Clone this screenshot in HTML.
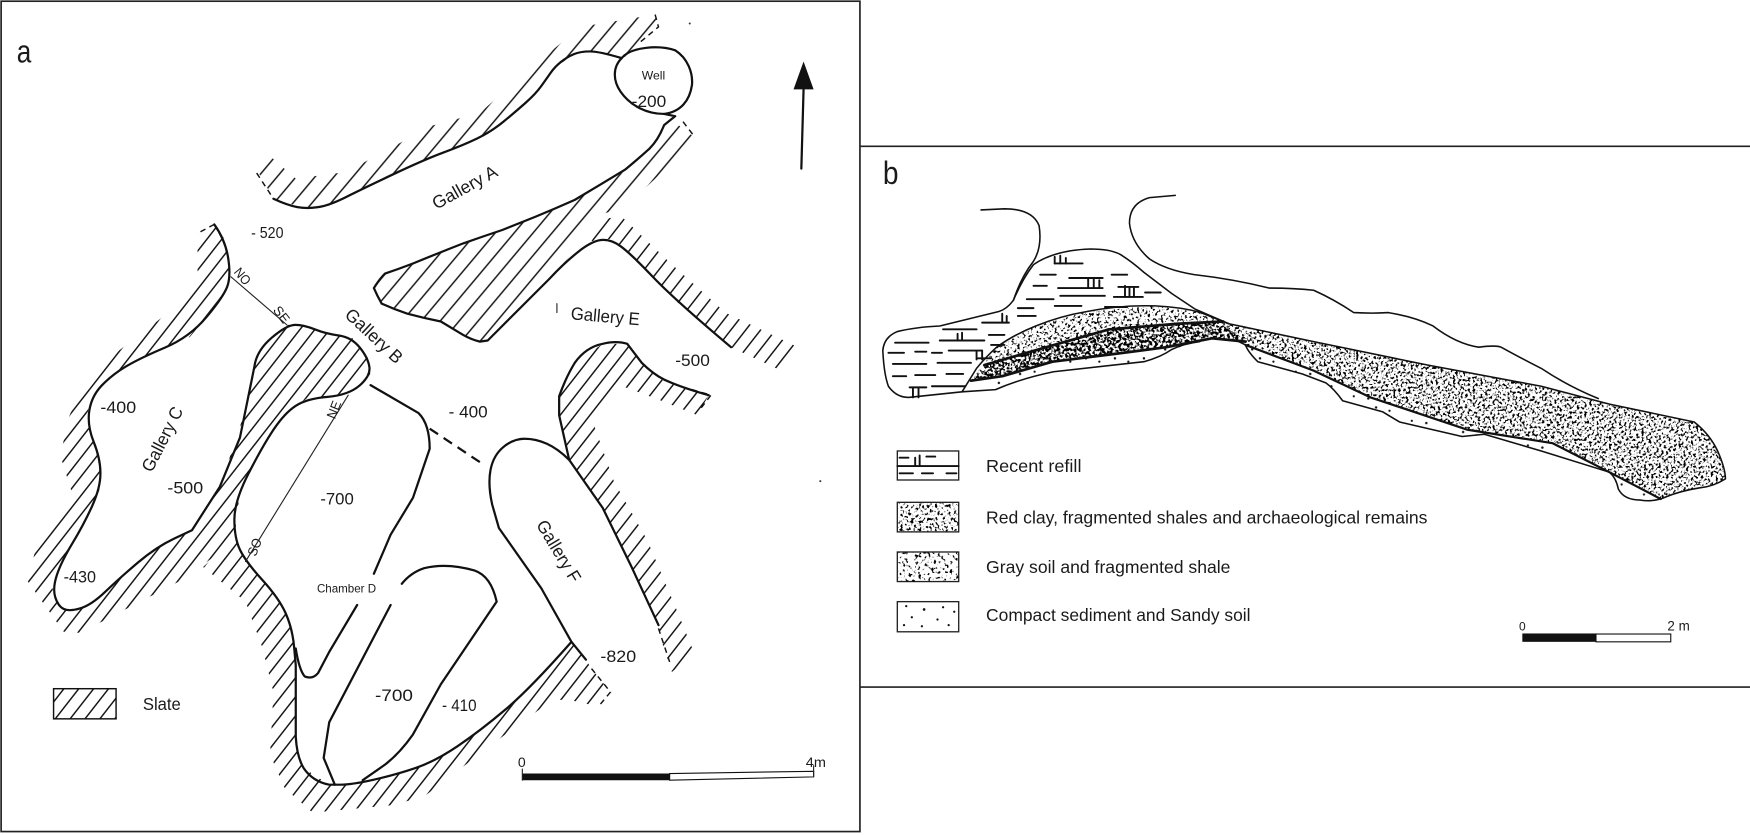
<!DOCTYPE html>
<html><head><meta charset="utf-8"><style>
html,body{margin:0;padding:0;background:#fff}
svg{display:block}
text{font-family:"Liberation Sans",sans-serif;fill:#1a1a1a}
.w{fill:none;stroke:#111;stroke-width:2;stroke-linejoin:round;stroke-linecap:round}
.t{fill:none;stroke:#222;stroke-width:1;stroke-linecap:round}
.th{fill:none;stroke:#111;stroke-width:1.7;stroke-linejoin:round;stroke-linecap:round}
.d{fill:none;stroke:#111;stroke-width:1.3;stroke-dasharray:5 4}
</style></head><body>
<svg width="1750" height="835" viewBox="0 0 1568 748" xmlns="http://www.w3.org/2000/svg">
<defs>
<pattern id="h" width="10.5" height="10.5" patternUnits="userSpaceOnUse" patternTransform="rotate(-52)"><line x1="0" y1="5" x2="10.5" y2="5" stroke="#111" stroke-width="1.3"/></pattern>
<pattern id="h2" width="13" height="13" patternUnits="userSpaceOnUse" patternTransform="rotate(-50)"><line x1="0" y1="6" x2="13" y2="6" stroke="#111" stroke-width="1.3"/></pattern>
<pattern id="sand" width="26" height="22" patternUnits="userSpaceOnUse"><circle cx="4" cy="5" r="1.1" fill="#111"/><circle cx="17" cy="3" r="1" fill="#111"/><circle cx="11" cy="13" r="1.1" fill="#111"/><circle cx="23" cy="16" r="1" fill="#111"/></pattern>
<filter id="s1" x="0" y="0" width="100%" height="100%"><feTurbulence type="fractalNoise" baseFrequency=".42" numOctaves="2" seed="4"/><feColorMatrix values="0 0 0 0 0 0 0 0 0 0 0 0 0 0 0 8 0 0 0 -4.3"/></filter>
<filter id="s2" x="0" y="0" width="100%" height="100%"><feTurbulence type="fractalNoise" baseFrequency=".45" numOctaves="2" seed="9"/><feColorMatrix values="0 0 0 0 0 0 0 0 0 0 0 0 0 0 0 8 0 0 0 -4.15"/></filter>
<filter id="s3" x="0" y="0" width="100%" height="100%"><feTurbulence type="fractalNoise" baseFrequency=".35" numOctaves="2" seed="14"/><feColorMatrix values="0 0 0 0 0 0 0 0 0 0 0 0 0 0 0 8 0 0 0 -4.6"/></filter>
<filter id="s4" x="0" y="0" width="100%" height="100%"><feTurbulence type="fractalNoise" baseFrequency=".4" numOctaves="2" seed="21"/><feColorMatrix values="0 0 0 0 0 0 0 0 0 0 0 0 0 0 0 8 0 0 0 -3.5"/></filter>
<clipPath id="cTail"><path d="M1096 288L1177 306L1279 327L1381 346L1442 362L1518 378Q1532 389 1539 404Q1546 420 1546 429Q1535 436 1523 437Q1505 440 1493 445L1488 447L1442 423L1391 397L1315 385L1228 356L1177 332L1116 309L1116 306Z"/></clipPath>
<clipPath id="cRed"><polygon points="870,341 882,327 948,308 994,295 1055,290 1096,288 1116,306 1086,303 1045,311 999,317 943,324 898,337"/></clipPath>
<clipPath id="cGray"><polygon points="862,351 893,311 928,292 974,279 1035,274 1076,280 1101,290 1055,290 994,295 948,308 882,327 870,341"/></clipPath>
<clipPath id="lb2"><rect x="805" y="451" width="54" height="25"/></clipPath>
<clipPath id="lb3"><rect x="805" y="495" width="54" height="26"/></clipPath>
</defs>
<rect width="1568" height="748" fill="#fff"/>
<rect x="1" y="1" width="769.5" height="744" fill="none" stroke="#222" stroke-width="1.5"/>
<path d="M771 131H1568M771 615.5H1568" fill="none" stroke="#222" stroke-width="1.5"/>

<!-- hatching -->
<g stroke="none">
<polygon fill="url(#h2)" points="232,155 240,138 265,160 310,154 355,130 385,113 430,101 472,64 520,24 587,13 590,30 575,45 557,52 537,46 520,46 497,60 480,84 440,118 415,130 380,143 325,169 295,184 275,187 245,178"/>
<polygon fill="url(#h2)" points="600,106 625,125 560,185 530,195 520,216 505,236 480,263 437,305 430,305 415,300 395,288 365,281 342,272 335,258 345,245 370,236 415,218 450,206 480,194 515,179 560,152 582,133 595,112"/>
<g fill="url(#h)">
<polygon points="530,216 540,196 557,194 600,235 650,280 717,312 702,333 655,311 605,269 565,227 547,214"/>
<polygon points="177,209 190,200 202,215 207,248 200,266 170,302 125,321 100,336 82,355 77,376 90,411 90,437 75,470 55,503 47,527 52,543 62,548 82,542 107,518 140,490 172,475 197,436 220,367 225,343 230,314 257,291 272,291 292,299 315,302 330,321 332,337 312,354 275,357 255,370 235,400 215,440 210,482 190,500 162,520 72,567 57,566 25,521 32,491 65,443 54,408 62,373 70,354 82,333 117,306 160,273 177,248"/>
<polygon points="210,482 220,503 250,536 262,563 265,596 265,667 272,688 295,703 315,703 355,694 390,682 430,655 475,617 512,575 525,591 530,599 547,620 532,632 510,627 495,627 450,660 382,712 355,721 280,728 255,706 242,676 245,620 235,580 220,539 182,508"/>
<polygon points="501,355 515,325 540,308 562,308 575,325 595,340 635,354 625,372 590,358 555,345 532,380 550,431 580,484 607,548 622,585 602,602 593,575 590,560 565,506 540,455 510,412 501,372"/>
<rect x="48" y="617" width="56" height="27"/>
</g>
</g>

<!-- walls -->
<g class="w">
<path d="M245 178Q258 184 266.5 185.5Q275 187 285 185.5Q295 184 310 176.5Q325 169 352.5 156Q380 143 397.5 136.5Q415 130 427.5 124Q440 118 451 109Q462 100 471 92Q480 84 485 77Q490 70 493.5 65Q497 60 502.5 55.5Q508 51 514 48.5Q520 46 528.5 46Q537 46 557 52"/>
<path d="M557 52C565 42 590 40 605 45C616 52 621 65 620 76C618 90 610 100 595 102C580 102 565 95 556 82C549 72 549 60 557 52Z"/>
<path d="M595 102L605 104L595 112Q590 125 582 133Q571 143 560 152Q537 166 515 179Q497 187 480 194Q465 200 450 206Q432 212 415 218Q392 227 370 236Q357 241 345 245Q340 250 335 258Q338 265 342 272Q353 277 365 281Q380 285 395 288Q405 294 415 300Q422 304 430 306L437 305L492 250Q505 236 517.5 226Q530 216 538.5 215Q547 214 556 220.5Q565 227 585 248Q605 269 655 311"/>
<path d="M192 201Q202 215 204.5 231.5Q207 248 203.5 257Q200 266 185 284Q170 302 147.5 311.5Q125 321 112.5 328.5Q100 336 91 345.5Q82 355 80 368Q78 381 84 396Q90 411 90 424Q90 437 82.5 453.5Q75 470 65 486.5Q55 503 51 515Q47 527 49.5 535Q52 543 57 545.5Q62 548 72 545Q82 542 94.5 530Q107 518 123.5 504Q140 490 156 482.5L172 475L197 436L215 392L225 343L228 328Q230 314 243.5 302.5Q257 291 264.5 291Q272 291 282 295Q292 299 303.5 300.5Q315 302 322.5 311.5Q330 321 331 329Q332 337 322 345.5Q312 354 293.5 355.5Q275 357 265 363.5Q255 370 245 385Q235 400 222.5 424.5Q210 449 210 465.5Q210 482 215 492.5Q220 503 235 519.5Q250 536 256 549.5Q262 563 263.5 579.5L265 596L265 660Q266 678 272 688Q280 700 295 703L305 703Q315 703 335 698.5Q355 694 372.5 688Q390 682 410 668.5Q430 655 452.5 636Q475 617 512 575L525 591"/>
<path d="M512 575L485 527L447 473L441 452Q437 434 439.5 421Q442 408 451 400.5Q460 393 470 393Q480 393 490 397.5Q500 402 510 412L540 455L565 506L590 560"/>
<path d="M510 412L501 372L501 355Q507 338 515 325Q525 311 540 308Q552 305 562 308L575 325Q585 335 595 340Q610 347 635 354"/>
<path d="M332 345L375 370Q385 380 385 402L370 446L350 479L335 514"/>
<path d="M320 542L295 584L285 603Q280 609 273 606Q268 600 265 581"/>
<path d="M360 523Q368 513 380 509Q400 504 425 511Q440 516 445 539L395 613L370 658Q358 675 345 685L325 699"/>
<path d="M350 542L295 647L290 679L300 703"/>
<path d="M718 151L720 80"/>
</g>
<polygon points="720,55 711,80 729,80" fill="#111"/>
<path d="M385 384L430 414" fill="none" stroke="#111" stroke-width="2" stroke-dasharray="9 6"/>
<path d="M207 248L257 291M312 354L220 503" class="t"/>
<path class="d" d="M587 13L590 24L572 39M230 155L245 178M612 109L622 122M590 563L600 593M530 599L547 620L537 632M620 349L637 354L627 367M192 201L177 209"/>
<path d="M499 272v8" class="t"/>
<circle cx="618" cy="21" r=".9" fill="#333"/><circle cx="735" cy="431" r=".9" fill="#333"/>
<rect x="48" y="617" width="56" height="27" fill="none" stroke="#111" stroke-width="1.3"/>

<!-- scale a -->
<polygon points="468,693 600,693 600,699 468,699" fill="#111"/>
<polygon points="600,693 729,691 729,696 600,699" fill="#fff" stroke="#111" stroke-width="1"/>
<path d="M468 689V699M729 686V696" class="t"/>

<!-- panel a text -->
<text x="15" y="56" font-size="29" textLength="13" lengthAdjust="spacingAndGlyphs">a</text>
<text x="575" y="71" font-size="11" textLength="21" lengthAdjust="spacingAndGlyphs">Well</text>
<text x="566" y="96" font-size="15" textLength="31" lengthAdjust="spacingAndGlyphs">-200</text>
<text transform="translate(391 188) rotate(-29)" font-size="16" textLength="64" lengthAdjust="spacingAndGlyphs">Gallery A</text>
<text x="225" y="213" font-size="14" textLength="29" lengthAdjust="spacingAndGlyphs">- 520</text>
<text transform="translate(209 244) rotate(50)" font-size="12" textLength="16" lengthAdjust="spacingAndGlyphs">NO</text>
<text transform="translate(244 278) rotate(52)" font-size="12" textLength="16" lengthAdjust="spacingAndGlyphs">SE</text>
<text transform="translate(308 283) rotate(43)" font-size="16" textLength="64" lengthAdjust="spacingAndGlyphs">Gallery B</text>
<text transform="translate(511 286) rotate(5)" font-size="16" textLength="62" lengthAdjust="spacingAndGlyphs">Gallery E</text>
<text x="605" y="328" font-size="15" textLength="31" lengthAdjust="spacingAndGlyphs">-500</text>
<text x="402" y="374" font-size="15" textLength="35" lengthAdjust="spacingAndGlyphs">- 400</text>
<text x="90" y="370" font-size="15" textLength="32" lengthAdjust="spacingAndGlyphs">-400</text>
<text transform="translate(136 424) rotate(-63)" font-size="16" textLength="63" lengthAdjust="spacingAndGlyphs">Gallery C</text>
<text x="150" y="442" font-size="15" textLength="32" lengthAdjust="spacingAndGlyphs">-500</text>
<text x="57" y="522" font-size="15" textLength="29" lengthAdjust="spacingAndGlyphs">-430</text>
<text transform="translate(300 376) rotate(-68)" font-size="12" textLength="16" lengthAdjust="spacingAndGlyphs">NE</text>
<text transform="translate(229 499) rotate(-68)" font-size="12" textLength="16" lengthAdjust="spacingAndGlyphs">SO</text>
<text x="287" y="452" font-size="15" textLength="30" lengthAdjust="spacingAndGlyphs">-700</text>
<text x="284" y="531" font-size="11" textLength="53" lengthAdjust="spacingAndGlyphs">Chamber D</text>
<text transform="translate(480 470) rotate(59)" font-size="16" textLength="62" lengthAdjust="spacingAndGlyphs">Gallery F</text>
<text x="538" y="593" font-size="15" textLength="32" lengthAdjust="spacingAndGlyphs">-820</text>
<text x="336" y="628" font-size="15" textLength="34" lengthAdjust="spacingAndGlyphs">-700</text>
<text x="396" y="637" font-size="15" textLength="31" lengthAdjust="spacingAndGlyphs">- 410</text>
<text x="128" y="636" font-size="16" textLength="34" lengthAdjust="spacingAndGlyphs">Slate</text>
<text x="464" y="687" font-size="12" textLength="7" lengthAdjust="spacingAndGlyphs">0</text>
<text x="722" y="687" font-size="12" textLength="18" lengthAdjust="spacingAndGlyphs">4m</text>

<!-- panel b stipple -->
<g clip-path="url(#cGray)"><rect x="850" y="260" width="270" height="100" filter="url(#s1)"/></g>
<g clip-path="url(#cRed)"><rect x="860" y="280" width="270" height="70" filter="url(#s4)"/></g>
<g clip-path="url(#cTail)"><rect x="1090" y="280" width="470" height="180" filter="url(#s2)"/></g>
<polygon points="882,345 892,349 944,333 1025,324 1050,313 1086,303 1045,311 999,317 943,324 898,337 870,341" fill="url(#sand)"/>
<polygon points="1116,309 1177,332 1228,356 1315,385 1391,397 1442,423 1488,447 1475,449 1452,441 1442,423 1381,404 1330,389 1310,391 1254,378 1239,369 1203,359 1188,343 1167,335 1127,324" fill="url(#sand)"/>

<!-- refill dashes -->
<path class="th" d="M945 236h25M932 246h14M958 249h30M996 246h14M926 256h12M948 258h40M1002 257h18M920 268h24M950 265h40M998 266h26M1026 262h14M912 276h14M945 274h24M990 275h20M845 295h30M880 289h24M912 283h16M802 307h30M842 305h40M886 300h14M796 316h14M820 315h10M835 316h9M850 314h30M888 309h12M800 326h30M840 325h30M876 321h12M800 337h12M820 336h18M848 335h15M815 347h15M835 346h30"/>
<path class="th" d="M945 236v-6M950 236v-7M955 236v-5M975 258v-8M980 258v-9M985 258v-7M1008 266v-10M1012 266v-9M1016 266v-8M898 289v-8M902 289v-6M858 305v-6M862 305v-7M818 356v-8M823 356v-8M875 322v-7M880 322v-8"/>

<!-- panel b lines -->
<g class="w" style="stroke-width:1.4">
<path d="M879 188L900 187Q925 187 931 202Q934 221 926 234Q915 248 908 269Q902 277 895 279L842 292Q820 293 804 297Q792 302 791 314Q792 335 796 346Q803 356 814 356L862 351L892 349Q915 339 944 333L1025 324Q1040 320 1050 313Q1060 308 1075 306"/>
<path d="M908 269Q916 250 926 237Q945 224 977 223Q995 223 1004 228Q1015 235 1025 244L1050 263L1071 277L1101 290"/>
<path d="M1053 175L1030 177Q1012 182 1012 200Q1014 218 1030 232Q1045 242 1070 246Q1105 250 1137 258Q1160 258 1177 260Q1195 268 1213 280Q1230 281 1244 280Q1268 284 1284 292Q1305 308 1325 311Q1340 309 1345 311Q1365 322 1381 330Q1405 346 1432 357"/>
<path d="M1101 290L1177 306L1279 327L1381 346L1442 362L1518 378Q1532 389 1539 404Q1546 420 1546 429Q1535 436 1523 437Q1505 440 1493 445Q1482 450 1470 448Q1455 448 1450 438Q1448 428 1442 423L1381 404L1330 389L1310 391L1254 378L1239 369L1203 359Q1195 348 1188 343L1167 335L1127 324Q1118 315 1116 309L1108 305"/>
<polyline points="1116,309 1177,332 1228,356 1315,385 1391,397 1442,423 1488,447" style="stroke-width:2"/>
<path d="M862 351L875 330Q883 320 893 311Q908 300 928 292Q950 283 974 279Q1005 273 1035 274Q1058 275 1076 280L1101 290"/>
<polyline points="870,341 898,337 943,324 999,317 1045,311 1086,303 1116,306" style="stroke-width:2.4"/>
<polyline points="882,327 948,308 994,295 1055,290 1096,288" style="stroke-width:2.4"/>
</g>

<!-- legend b -->
<g fill="none" stroke="#222" stroke-width="1.2">
<rect x="804" y="404" width="55" height="26" fill="#fff"/>
<rect x="804" y="450" width="55" height="26.5" fill="#fff"/>
<rect x="804" y="494.5" width="55" height="26.5" fill="#fff"/>
<rect x="804" y="539" width="55" height="27" fill="#fff"/>
</g>
<path class="th" d="M804 417.5h55M806 410h8M820 410v7M824 408v9M830 409h8M806 424h12M826 424h10M848 424h9"/>
<g clip-path="url(#lb2)"><rect x="804" y="450" width="56" height="27" filter="url(#s1)"/></g>
<g clip-path="url(#lb3)"><rect x="804" y="494" width="56" height="28" filter="url(#s3)"/></g>
<g fill="#111"><circle cx="812" cy="543" r="1"/><circle cx="828" cy="546" r="1.2"/><circle cx="845" cy="544" r="1"/><circle cx="855" cy="548" r="1"/><circle cx="817" cy="553" r="1"/><circle cx="840" cy="555" r="1"/><circle cx="810" cy="560" r="1"/><circle cx="826" cy="561" r="1"/><circle cx="850" cy="560" r="1"/></g>

<text x="791" y="165" font-size="29" textLength="14" lengthAdjust="spacingAndGlyphs">b</text>
<text x="883.5" y="423" font-size="16" textLength="85.5" lengthAdjust="spacingAndGlyphs">Recent refill</text>
<text x="883.5" y="469" font-size="16" textLength="395.5" lengthAdjust="spacingAndGlyphs">Red clay, fragmented shales and archaeological remains</text>
<text x="883.5" y="513.5" font-size="16" textLength="219" lengthAdjust="spacingAndGlyphs">Gray soil and fragmented shale</text>
<text x="883.5" y="556.5" font-size="16" textLength="237" lengthAdjust="spacingAndGlyphs">Compact sediment and Sandy soil</text>

<!-- scale b -->
<rect x="1364" y="567.5" width="66" height="7.5" fill="#111"/>
<rect x="1430" y="568" width="67" height="7" fill="#fff" stroke="#111"/>
<text x="1361" y="565" font-size="11" textLength="6" lengthAdjust="spacingAndGlyphs">0</text>
<text x="1494" y="565" font-size="12" textLength="20" lengthAdjust="spacingAndGlyphs">2 m</text>
</svg>
</body></html>
